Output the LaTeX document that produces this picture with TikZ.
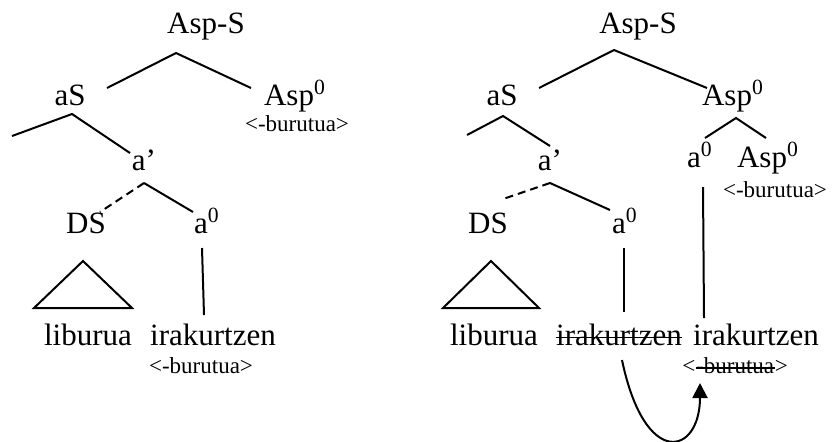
\documentclass[tikz,border=0pt]{standalone}
\usepackage{fontspec}
\setmainfont{Liberation Serif}
\usetikzlibrary{arrows.meta}
\newcommand{\zero}{\textsuperscript{0}}

\begin{document}
\begin{tikzpicture}[
			x=0.5pt,y=-0.5pt,
			cat/.style={
				inner sep=0pt,
				anchor=base,
				font=\fontsize{15.5}{18}\selectfont
			},
			feat/.style={
				inner sep=0pt,
				anchor=base,
				font=\fontsize{11.5}{13}\selectfont
			},
			branch/.style={
				line width=1pt
			},
			trace/.style={
				line width=1pt,
				dash pattern=on 4pt off 2.5pt
			},
			strike/.style={
				line width=0.8pt
			},
			movearrow/.style={
				-{Triangle[length=7.5pt,width=7.5pt]},
				line width=1pt
			}
		]
			\useasboundingbox (0,0) rectangle (834,441);
			
			% left tree
			\node[cat] (laspS) at (206,33) {Asp-S};
			\node[cat] (laS) at (70,105) {aS};
			\node[cat] (lasp) at (295,105) {Asp\zero};
			\node[feat] (lburA) at (297,131) {<-burutua>};
			\node[cat] (lap) at (144,170) {a’};
			\node[cat] (lDS) at (86,233) {DS};
			\node[cat] (la) at (207,233) {a\zero};
			\node[cat] (llib) at (88,345) {liburua};
			\node[cat] (lirak) at (213,345) {irakurtzen};
			\node[feat] (lburB) at (201,373) {<-burutua>};
			
			\coordinate (lA) at (176,53);
			\coordinate (lA1) at (107,88);
			\coordinate (lA2) at (251,88);
			\coordinate (lB) at (72,114);
			\coordinate (lB1) at (12,136);
			\coordinate (lB2) at (130,153);
			\coordinate (lC) at (144,183);
			\coordinate (lC1) at (100,212);
			\coordinate (lC2) at (193,212);
			\coordinate (lD) at (202,248);
			\coordinate (lD1) at (204,315);
			\coordinate (lT) at (83,261);
			\coordinate (lT1) at (34,308);
			\coordinate (lT2) at (132,308);
			
			\draw[branch] (lA1) -- (lA) -- (lA2);
			\draw[branch] (lB1) -- (lB) -- (lB2);
			\draw[trace] (lC) -- (lC1);
			\draw[branch] (lC) -- (lC2);
			\draw[branch] (lD) -- (lD1);
			\draw[branch] (lT) -- (lT1) -- (lT2) -- cycle;
			
			% right tree
			\node[cat] (raspS) at (638,33) {Asp-S};
			\node[cat] (raS) at (502,105) {aS};
			\node[cat] (rasp) at (733,105) {Asp\zero};
			\node[cat] (rap) at (550,170) {a’};
			\node[cat] (raup) at (700,167) {a\zero};
			\node[cat] (rasplow) at (768,167) {Asp\zero};
			\node[feat] (rburA) at (775,197) {<-burutua>};
			\node[cat] (rDS) at (488,233) {DS};
			\node[cat] (ra) at (625,233) {a\zero};
			\node[cat] (rlib) at (494,345) {liburua};
			\node[cat] (rirakS) at (619,345) {irakurtzen};
			\node[cat] (rirak) at (756,345) {irakurtzen};
			\node[feat,anchor=base west] (rburL) at (682,373) {<};
			\node[feat,anchor=base west] (rburM) at (rburL.base east) {-burutua};
			\node[feat,anchor=base west] (rburR) at (rburM.base east) {>};
			
			\draw[strike] ([yshift=3.8pt]rirakS.base west) -- ([yshift=3.8pt]rirakS.base east);
			\draw[strike] ([yshift=2.6pt]rburM.base west) -- ([yshift=2.6pt]rburM.base east);
			
			\coordinate (rA) at (614,50);
			\coordinate (rA1) at (539,88);
			\coordinate (rA2) at (707,88);
			\coordinate (rB) at (503,116);
			\coordinate (rB1) at (467,135);
			\coordinate (rB2) at (550,146);
			\coordinate (rE) at (736,118);
			\coordinate (rE1) at (705,138);
			\coordinate (rE2) at (766,138);
			\coordinate (rC) at (550,183);
			\coordinate (rC1) at (503,199);
			\coordinate (rC2) at (610,210);
			\coordinate (rF) at (703,187);
			\coordinate (rF1) at (704,318);
			\coordinate (rD) at (624,248);
			\coordinate (rD1) at (624,312);
			\coordinate (rT) at (491,261);
			\coordinate (rT1) at (443,308);
			\coordinate (rT2) at (539,308);
			\coordinate (rmvA) at (622,360);
			\coordinate (rmvB) at (700,383);
			
			\draw[branch] (rA1) -- (rA) -- (rA2);
			\draw[branch] (rB1) -- (rB) -- (rB2);
			\draw[branch] (rE1) -- (rE) -- (rE2);
			\draw[trace] (rC) -- (rC1);
			\draw[branch] (rC) -- (rC2);
			\draw[branch] (rF) -- (rF1);
			\draw[branch] (rD) -- (rD1);
			\draw[branch] (rT) -- (rT1) -- (rT2) -- cycle;
			\draw[movearrow] (rmvA) .. controls (645,470) and (700,455) .. (rmvB);
			
		\end{tikzpicture}
\end{document}
